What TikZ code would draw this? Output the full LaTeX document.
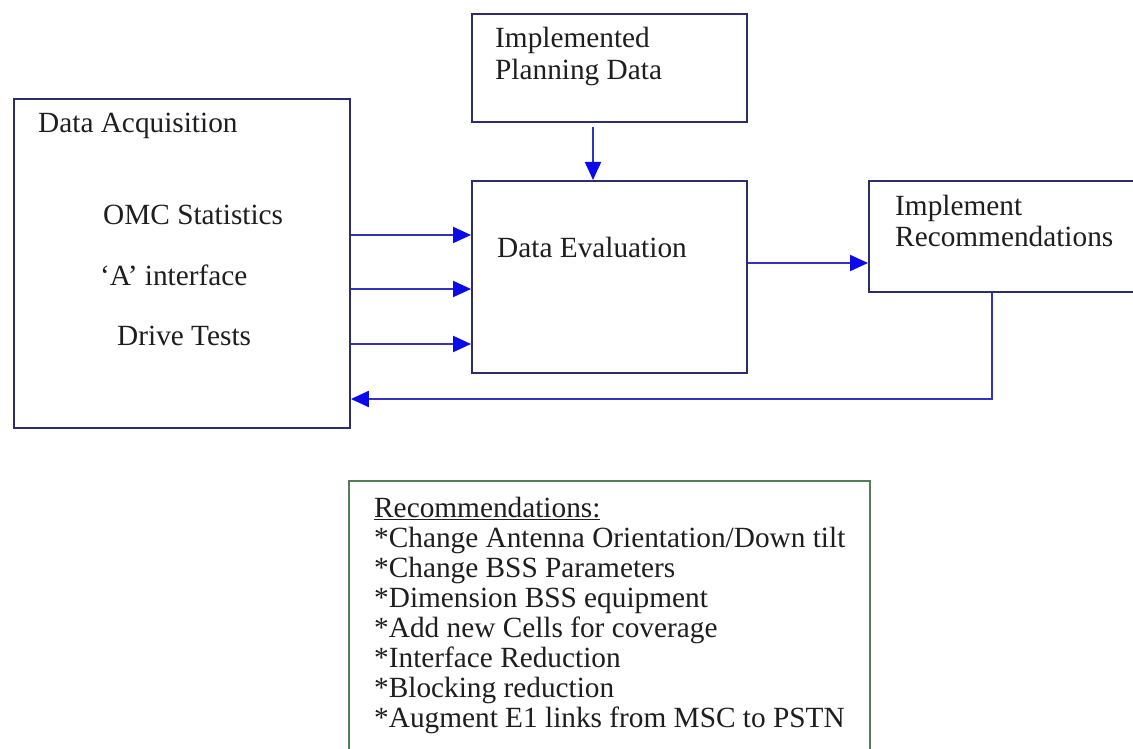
\documentclass[tikz,border=0pt]{standalone}
\usepackage{fontspec}
\setmainfont{Liberation Serif}
\usetikzlibrary{arrows.meta}
\definecolor{frame}{RGB}{45,45,105}
\definecolor{link}{RGB}{50,50,190}
\definecolor{tipblue}{RGB}{10,10,235}
\definecolor{note}{RGB}{85,125,90}
\definecolor{ink}{RGB}{30,30,30}
\begin{document}
\begin{tikzpicture}[x=1pt,y=-1pt,
  box/.style={draw=frame, line width=1.9pt, rectangle, inner sep=0pt, anchor=north west},
  lbl/.style={anchor=base west, inner sep=0pt, text=ink, font=\fontsize{29.3}{31}\selectfont},
  arr/.style={draw=link, line width=2.1pt, -{Triangle[length=18pt,width=16pt,color=tipblue]}}
]
\useasboundingbox[fill=white] (0,0) rectangle (1133,749);

% process boxes
\node[box, minimum width=336pt, minimum height=329pt] (da)  at (13,98)  {};
\node[box, minimum width=275pt, minimum height=108pt] (ipd) at (471,13) {};
\node[box, minimum width=275pt, minimum height=192pt] (de)  at (471,180) {};
\node[box, minimum width=267pt, minimum height=111pt] (ir)  at (868,180) {};

% labels
\node[lbl] (daT)  at (38,133)  {Data Acquisition};
\node[lbl] (omc)  at (103,224) {OMC Statistics};
\node[lbl] (aif)  at (100,285) {`A' interface};
\node[lbl] (dt)   at (117,345) {Drive Tests};
\node[lbl] (ipd1) at (495,48)  {Implemented};
\node[lbl] (ipd2) at (495,80)  {Planning Data};
\node[lbl] (deT)  at (497,257) {Data Evaluation};
\node[lbl] (ir1)  at (895,215) {Implement};
\node[lbl] (ir2)  at (895,246) {Recommendations};

% arrow levels
\coordinate (y1) at (0,235);
\coordinate (y2) at (0,289);
\coordinate (y3) at (0,344);
\coordinate (y4) at (0,263);
\coordinate (px) at (593,0);
\coordinate (fb) at (992,399);

\draw[arr] (da.east |- y1) -- (de.west |- y1);
\draw[arr] (da.east |- y2) -- (de.west |- y2);
\draw[arr] (da.east |- y3) -- (de.west |- y3);
\draw[arr] (de.east |- y4) -- (ir.west |- y4);
\draw[arr] ([yshift=-4pt]ipd.south -| px) -- (de.north -| px);
\draw[arr] (ir.south -| fb) -- (fb) -- (da.east |- fb);

% recommendations list
\draw[draw=note, line width=1.9pt] (349,755) -- (349,481) -- (870,481) -- (870,755);
\foreach \t [count=\i] in {{\underline{Recommendations:}},
  {*Change Antenna Orientation/Down tilt},
  {*Change BSS Parameters},
  {*Dimension BSS equipment},
  {*Add new Cells for coverage},
  {*Interface Reduction},
  {*Blocking reduction},
  {*Augment E1 links from MSC to PSTN}}
  \node[lbl] (rec\i) at (374,487+30*\i) {\t};
\end{tikzpicture}
\end{document}
